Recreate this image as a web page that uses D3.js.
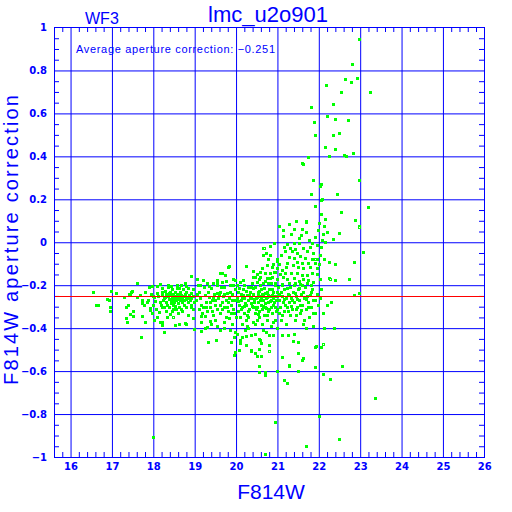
<!DOCTYPE html>
<meta charset="utf-8">
<script src="https://cdnjs.cloudflare.com/ajax/libs/d3/7.8.5/d3.min.js"></script>
<style>
  body { margin: 0; background: #fff; }
  svg { display: block; }
  .tick text { font-family: "DejaVu Sans", sans-serif; font-weight: bold; font-size: 10px; fill: #0000ff; }
  .label { font-family: "Liberation Sans", sans-serif; fill: #0000ff; }
</style>
<body></body>
<script>
// values
var xTicks = [16, 17, 18, 19, 20, 21, 22, 23, 24, 25, 26];
var yTicks = [-1, -0.8, -0.6, -0.4, -0.2, 0, 0.2, 0.4, 0.6, 0.8, 1];
var avgCorrection = -0.251;

var stars = [
  // 16.5 - 18
  [16.55,-0.23],[16.62,-0.29],[16.66,-0.29],[16.88,-0.263],[16.93,-0.27],[16.95,-0.3],[16.97,-0.225],[16.95,-0.32],
  [17.1,-0.235],[17.28,-0.257],[17.33,-0.3],[17.4,-0.29],[17.43,-0.245],[17.42,-0.24],[17.48,-0.225],[17.45,-0.232],
  [17.43,-0.335],[17.5,-0.32],[17.35,-0.355],[17.36,-0.37],[17.52,-0.345],[17.6,-0.19],[17.7,-0.44],[17.6,-0.257],
  [17.67,-0.245],[17.72,-0.27],[17.72,-0.285],[17.8,-0.23],[17.78,-0.29],[17.85,-0.28],[17.87,-0.27],[17.8,-0.37],
  [17.72,-0.345],[17.9,-0.21],[17.97,-0.205],[17.92,-0.315],[17.93,-0.305],[18.0,-0.25],[18.01,-0.257],[18.0,-0.29],
  [18.03,-0.275],[17.95,-0.24],[17.98,-0.33],[18.0,-0.905],
  // 18 - 19
  [18.08,-0.205],[18.1,-0.235],[18.06,-0.31],[18.13,-0.325],[18.15,-0.195],[18.2,-0.215],[18.17,-0.37],[18.2,-0.37],
  [18.25,-0.42],[18.27,-0.418],[18.2,-0.385],[18.2,-0.23],[18.22,-0.245],[18.25,-0.26],[18.23,-0.27],[18.28,-0.225],
  [18.3,-0.24],[18.3,-0.28],[18.32,-0.29],[18.35,-0.25],[18.35,-0.21],[18.37,-0.265],[18.38,-0.3],[18.4,-0.23],
  [18.4,-0.245],[18.42,-0.27],[18.43,-0.285],[18.45,-0.255],[18.45,-0.22],[18.47,-0.31],[18.48,-0.24],[18.5,-0.265],
  [18.5,-0.28],[18.52,-0.23],[18.53,-0.295],[18.55,-0.25],[18.55,-0.27],[18.57,-0.215],[18.58,-0.26],[18.6,-0.24],
  [18.6,-0.285],[18.62,-0.3],[18.63,-0.255],[18.65,-0.27],[18.65,-0.23],[18.67,-0.245],[18.68,-0.31],[18.7,-0.26],
  [18.7,-0.28],[18.72,-0.22],[18.73,-0.25],[18.75,-0.29],[18.77,-0.24],[18.78,-0.265],[18.8,-0.3],[18.8,-0.23],
  [18.82,-0.255],[18.83,-0.28],[18.85,-0.215],[18.87,-0.245],[18.88,-0.27],[18.9,-0.29],[18.9,-0.235],[18.92,-0.26],
  [18.95,-0.31],[18.95,-0.22],[18.97,-0.25],[18.98,-0.28],[18.52,-0.385],[18.63,-0.38],[18.77,-0.378],[18.78,-0.382],
  [18.9,-0.155],[18.77,-0.19],[18.67,-0.198],[18.97,-0.355],[18.99,-0.405],[18.3,-0.32],[18.4,-0.335],[18.6,-0.33],
  [18.35,-0.2],[18.25,-0.3],[18.45,-0.32],[18.7,-0.32],[18.85,-0.34],[18.55,-0.31],[18.15,-0.28],[18.12,-0.25],
  [18.18,-0.29],[18.22,-0.3],[18.58,-0.2],[18.42,-0.205],[18.62,-0.215],[18.8,-0.205],[18.33,-0.35],[18.1,-0.35],
  [18.02,-0.36],[18.28,-0.255],[18.38,-0.235],[18.48,-0.29],[18.58,-0.245],[18.68,-0.265],[18.74,-0.27],[18.84,-0.26],
  [18.92,-0.3],[18.5,-0.25],[18.44,-0.275],[18.62,-0.265],
  // 19 - 20
  [19.05,-0.17],[19.08,-0.2],[19.1,-0.23],[19.12,-0.26],[19.15,-0.29],[19.1,-0.31],[19.05,-0.24],[19.03,-0.27],
  [19.15,-0.415],[19.2,-0.176],[19.22,-0.21],[19.25,-0.245],[19.27,-0.28],[19.3,-0.395],[19.32,-0.465],[19.29,-0.19],
  [19.3,-0.32],[19.33,-0.23],[19.35,-0.255],[19.37,-0.365],[19.38,-0.3],[19.4,-0.215],[19.42,-0.27],[19.45,-0.34],
  [19.47,-0.24],[19.48,-0.29],[19.5,-0.36],[19.52,-0.456],[19.53,-0.176],[19.55,-0.2],[19.55,-0.31],[19.57,-0.26],
  [19.6,-0.23],[19.61,-0.145],[19.62,-0.33],[19.65,-0.28],[19.66,-0.145],[19.68,-0.25],[19.7,-0.4],[19.7,-0.21],
  [19.72,-0.3],[19.75,-0.27],[19.75,-0.35],[19.78,-0.235],[19.8,-0.32],[19.82,-0.355],[19.82,-0.11],[19.83,-0.26],
  [19.85,-0.2],[19.87,-0.29],[19.88,-0.465],[19.9,-0.24],[19.9,-0.38],[19.93,-0.17],[19.93,-0.31],[19.95,-0.44],
  [19.95,-0.525],[19.97,-0.51],[19.97,-0.27],[19.98,-0.22],[19.99,-0.35],[19.15,-0.345],[19.2,-0.3],[19.25,-0.345],
  [19.4,-0.38],[19.6,-0.41],[19.45,-0.19],[19.65,-0.185],[19.35,-0.205],[19.75,-0.18],[19.85,-0.41],[19.5,-0.27],
  [19.58,-0.245],[19.67,-0.31],[19.8,-0.28],[19.92,-0.2],[19.12,-0.2],[19.18,-0.33],[19.28,-0.3],[19.42,-0.32],
  [19.53,-0.39],[19.7,-0.37],[19.88,-0.33],[19.98,-0.42],[19.25,-0.4],[19.15,-0.37],[19.81,-0.113],[19.65,-0.144],
  [19.73,-0.152],[19.53,-0.183],[19.98,-0.175],[19.6,-0.29],[19.63,-0.21],[19.72,-0.24],[19.78,-0.3],[19.86,-0.23],
  [19.9,-0.27],[19.94,-0.33],[19.55,-0.235],[19.45,-0.26],[19.38,-0.28],
  // 20 - 21
  [20.02,-0.2],[20.05,-0.23],[20.03,-0.26],[20.07,-0.29],[20.05,-0.32],[20.03,-0.425],[20.07,-0.5],[20.1,-0.455],
  [20.1,-0.184],[20.1,-0.35],[20.12,-0.27],[20.13,-0.24],[20.15,-0.3],[20.15,-0.38],[20.18,-0.175],[20.18,-0.22],
  [20.2,-0.26],[20.2,-0.33],[20.22,-0.41],[20.23,-0.48],[20.23,-0.11],[20.25,-0.29],[20.26,-0.39],[20.27,-0.245],
  [20.28,-0.21],[20.3,-0.27],[20.3,-0.35],[20.32,-0.31],[20.33,-0.23],[20.35,-0.43],[20.36,-0.5],[20.37,-0.26],
  [20.38,-0.19],[20.4,-0.3],[20.4,-0.37],[20.42,-0.133],[20.42,-0.24],[20.43,-0.28],[20.45,-0.425],[20.45,-0.33],
  [20.47,-0.21],[20.48,-0.26],[20.5,-0.148],[20.5,-0.3],[20.5,-0.53],[20.5,-0.36],[20.52,-0.23],[20.53,-0.28],
  [20.55,-0.45],[20.55,-0.495],[20.55,-0.575],[20.55,-0.605],[20.56,-0.32],[20.57,-0.25],[20.58,-0.137],[20.58,-0.2],
  [20.6,-0.47],[20.6,-0.53],[20.6,-0.29],[20.62,-0.38],[20.63,-0.24],[20.65,-0.059],[20.65,-0.27],[20.66,-0.028],
  [20.67,-0.34],[20.68,-0.215],[20.7,-0.141],[20.7,-0.605],[20.7,-0.62],[20.7,-0.3],[20.7,-0.985],[20.72,-0.26],
  [20.73,-0.42],[20.74,-0.106],[20.75,-0.23],[20.75,-0.36],[20.77,-0.28],[20.78,-0.19],[20.8,-0.48],[20.8,-0.31],
  [20.82,-0.017],[20.82,-0.25],[20.83,-0.165],[20.85,-0.39],[20.85,-0.27],[20.86,-0.113],[20.88,-0.22],[20.88,-0.33],
  [20.9,-0.43],[20.9,-0.29],[20.92,-0.005],[20.92,-0.14],[20.93,-0.25],[20.95,-0.835],[20.95,-0.36],[20.95,-0.2],
  [20.97,-0.27],[20.98,-0.08],[20.98,-0.31],[21.0,-0.6],[21.0,-0.23],[21.0,-0.4],[20.05,-0.275],[20.12,-0.31],
  [20.17,-0.245],[20.22,-0.285],[20.28,-0.32],[20.33,-0.255],[20.38,-0.295],[20.44,-0.265],[20.48,-0.31],[20.53,-0.245],
  [20.58,-0.27],[20.62,-0.31],[20.66,-0.25],[20.71,-0.285],[20.76,-0.255],[20.8,-0.22],[20.84,-0.3],[20.87,-0.245],
  [20.92,-0.28],[20.96,-0.32],[20.2,-0.2],[20.35,-0.21],[20.6,-0.22],[20.9,-0.23],[20.3,-0.4],[20.45,-0.38],
  [20.65,-0.41],[20.9,-0.37],[20.15,-0.44],[20.25,-0.36],[20.55,-0.35],[20.75,-0.34],[20.4,-0.16],[20.55,-0.17],
  [20.7,-0.18],[20.85,-0.19],[20.62,-0.12],[20.78,-0.08],[20.9,-0.1],[20.72,-0.05],[20.46,-0.16],[20.58,-0.163],
  [20.74,-0.168],[20.86,-0.16],[20.5,-0.183],[20.66,-0.188],[20.81,-0.191],[20.94,-0.188],[20.82,-0.144],[20.94,-0.137],
  [20.82,-0.059],[20.98,-0.085],[20.98,-0.121],[20.98,-0.172],[20.45,-0.515],[20.37,-0.505],[20.1,-0.47],[20.25,-0.435],
  [20.8,-0.43],[20.58,-0.455],[20.08,-0.215],[20.14,-0.26],[20.19,-0.295],[20.24,-0.225],[20.31,-0.245],[20.36,-0.285],
  [20.41,-0.215],[20.46,-0.3],[20.51,-0.255],[20.56,-0.225],[20.61,-0.265],[20.64,-0.295],[20.69,-0.235],[20.73,-0.305],
  [20.78,-0.245],[20.83,-0.275],[20.89,-0.26],[20.94,-0.3],[20.99,-0.25],[20.27,-0.34],[20.52,-0.335],[20.77,-0.32],
  // 21 - 22, upper cloud
  [21.04,0.077],[21.28,0.083],[21.45,0.1],[21.68,0.095],[21.13,0.057],[21.13,0.03],[21.32,0.038],[21.58,0.036],
  [21.68,0.049],[21.52,0.02],[21.77,0.01],[21.92,0.025],[21.97,0.057],[21.23,-0.008],[21.39,-0.005],[21.53,-0.005],
  [21.83,-0.002],[21.95,-0.012],[21.31,-0.028],[21.43,-0.033],[21.63,-0.028],[21.79,-0.02],[21.19,-0.043],[21.35,-0.043],
  [21.48,-0.051],[21.71,-0.043],[21.87,-0.051],[21.08,-0.059],[21.27,-0.067],[21.39,-0.075],[21.55,-0.064],[21.67,-0.075],
  [21.83,-0.079],[21.95,-0.079],[21.23,-0.095],[21.47,-0.09],[21.59,-0.095],[21.75,-0.098],[21.91,-0.098],[21.1,-0.129],
  [21.21,-0.113],[21.37,-0.106],[21.49,-0.113],[21.63,-0.121],[21.79,-0.113],[21.95,-0.121],[21.06,-0.148],[21.19,-0.141],
  [21.32,-0.144],[21.47,-0.144],[21.59,-0.152],[21.71,-0.152],[21.83,-0.144],[21.95,-0.148],[21.13,-0.163],[21.24,-0.172],
  [21.39,-0.168],[21.51,-0.179],[21.63,-0.172],[21.75,-0.175],[21.87,-0.183],[21.1,-0.194],[21.27,-0.191],[21.43,-0.188],
  [21.55,-0.194],[21.71,-0.191],[21.15,-0.02],[21.05,-0.1],[21.6,0.06],[21.4,0.06],
  // 21 - 22, lower part
  [21.02,-0.21],[21.05,-0.24],[21.03,-0.27],[21.07,-0.3],[21.05,-0.33],[21.08,-0.36],[21.1,-0.43],[21.1,-0.535],
  [21.12,-0.25],[21.13,-0.28],[21.15,-0.64],[21.15,-0.32],[21.17,-0.22],[21.2,-0.26],[21.2,-0.38],[21.23,-0.655],
  [21.22,-0.3],[21.25,-0.43],[21.25,-0.24],[21.27,-0.57],[21.27,-0.28],[21.3,-0.34],[21.3,-0.21],[21.32,-0.26],
  [21.35,-0.31],[21.37,-0.46],[21.37,-0.23],[21.4,-0.425],[21.4,-0.28],[21.42,-0.36],[21.45,-0.25],[21.47,-0.3],
  [21.5,-0.465],[21.5,-0.515],[21.5,-0.6],[21.5,-0.22],[21.52,-0.27],[21.55,-0.33],[21.57,-0.24],[21.6,-0.55],
  [21.62,-0.54],[21.6,-0.29],[21.62,-0.38],[21.65,-0.26],[21.67,-0.21],[21.68,-0.31],[21.7,-0.95],[21.7,-0.4],
  [21.72,-0.25],[21.75,-0.28],[21.77,-0.35],[21.8,-0.23],[21.82,-0.3],[21.85,-0.27],[21.87,-0.33],[21.9,-0.33],
  [21.9,-0.49],[21.9,-0.58],[21.92,-0.58],[21.93,-0.485],[21.95,-0.24],[21.97,-0.29],[22.0,-0.81],[21.15,-0.265],
  [21.35,-0.27],[21.55,-0.29],[21.75,-0.3],[21.25,-0.32],[21.45,-0.34],[21.65,-0.36],[21.85,-0.39],[21.1,-0.2],
  [21.4,-0.2],[21.6,-0.2],[21.8,-0.2],[21.37,-0.46],[21.27,-0.575],[21.08,-0.23],[21.18,-0.29],[21.23,-0.215],
  [21.28,-0.245],[21.33,-0.295],[21.42,-0.235],[21.48,-0.265],[21.53,-0.215],[21.58,-0.315],[21.63,-0.23],[21.7,-0.265],
  [21.78,-0.245],[21.84,-0.22],[21.92,-0.27],[21.44,-0.31],[21.12,-0.34],
  // the column near 22 and the faint tail
  [22.02,-0.26],[22.05,-0.22],[22.02,-0.17],[22.0,-0.1],[22.03,-0.06],[22.05,-0.02],[22.08,0.01],[22.1,0.04],
  [22.12,0.075],[22.15,0.11],[22.05,0.13],[22.05,0.195],[22.07,0.2],[21.9,0.17],[22.02,0.26],[22.05,0.27],
  [21.87,0.29],[21.82,0.225],[22.1,-0.33],[22.12,-0.4],[22.05,-0.49],[22.1,-0.615],[22.27,-0.635],[22.25,-0.09],
  [22.4,-0.1],[22.35,0.015],[22.5,0.045],[22.73,-0.17],[22.25,-0.165],[22.4,-0.175],[22.85,-0.245],[22.98,-0.235],
  [22.3,-0.28],[22.2,-0.29],[22.37,-0.4],[22.55,-0.575],[23.08,-0.045],[22.85,-0.09],[23.35,-0.725],[22.5,-0.915],
  [22.12,-0.08],[22.15,0.0],[22.2,0.05],[22.0,0.09],[21.45,0.1],[21.7,0.1],[22.88,0.105],[22.98,0.075],
  [22.53,0.14],[21.9,0.17],[23.2,0.165],[22.05,0.13],[22.45,0.225],[22.98,0.29],[22.05,0.27],[21.75,0.395],
  [21.6,0.37],[21.62,0.365],[22.15,0.445],[22.4,0.435],[22.6,0.405],[22.65,0.4],[22.82,0.415],[22.25,0.4],
  [21.9,0.5],[22.35,0.5],[22.5,0.51],[22.2,0.59],[22.4,0.575],[22.7,0.57],[21.88,0.56],[21.8,0.63],
  [22.35,0.645],[22.17,0.73],[22.53,0.7],[23.23,0.7],[22.64,0.76],[22.77,0.745],[22.93,0.765],[22.8,0.83],
  [22.98,0.945]
];

var openStars = [[18.48,-0.35],[20.67,-0.028],[21.92,-0.08],[22.28,-0.17],[22.98,0.07],[22.1,-0.475],[20.8,-0.505]];

var W = 512, H = 512;
var x = d3.scaleLinear().domain([15.6, 26]).range([54, 484.3]);
var y = d3.scaleLinear().domain([-1, 1]).range([457, 27.5]);

var plotLeft = 54, plotRight = 484, plotTop = 27, plotBottom = 457;
var blue = "#0000ff";

var svg = d3.select("body").append("svg")
    .attr("width", W)
    .attr("height", H);

svg.append("rect").attr("width", W).attr("height", H).attr("fill", "#fff");

function styleLines(g) { g.select(".domain").remove(); g.selectAll("line").attr("stroke", blue); }

// grid
svg.append("g")
    .attr("transform", "translate(0," + plotBottom + ")")
    .call(d3.axisBottom(x).tickValues(xTicks.slice(0, -1)).tickSize(-(plotBottom - plotTop)).tickFormat(""))
    .call(styleLines);

svg.append("g")
    .attr("transform", "translate(" + plotLeft + ",0)")
    .call(d3.axisLeft(y).tickValues(yTicks.slice(1, -1)).tickSize(-(plotRight - plotLeft)).tickFormat(""))
    .call(styleLines);

// minor ticks
var xMinor = d3.range(15.8, 26, 0.2).filter(function(v) { return Math.abs(v - Math.round(v)) > 0.01; });
var yMinor = d3.range(-0.95, 1, 0.05).filter(function(v) { return Math.abs(v * 5 - Math.round(v * 5)) > 0.01; });

svg.append("g").attr("transform", "translate(0," + plotBottom + ")")
    .call(d3.axisBottom(x).tickValues(xMinor).tickSize(-5).tickFormat("")).call(styleLines);
svg.append("g").attr("transform", "translate(0," + plotTop + ")")
    .call(d3.axisTop(x).tickValues(xMinor).tickSize(-5).tickFormat("")).call(styleLines);
svg.append("g").attr("transform", "translate(" + plotLeft + ",0)")
    .call(d3.axisLeft(y).tickValues(yMinor).tickSize(-5).tickFormat("")).call(styleLines);
svg.append("g").attr("transform", "translate(" + plotRight + ",0)")
    .call(d3.axisRight(y).tickValues(yMinor).tickSize(-5).tickFormat("")).call(styleLines);

// points
svg.append("g").selectAll("rect")
    .data(stars)
  .enter().append("rect")
    .attr("x", function(d) { return Math.round(x(d[0])) - 1; })
    .attr("y", function(d) { return Math.round(y(d[1])) - 1; })
    .attr("width", 3)
    .attr("height", 3)
    .attr("fill", "#00ff00");

var open = svg.append("g").selectAll("g")
    .data(openStars)
  .enter().append("g");
open.append("rect")
    .attr("x", function(d) { return Math.round(x(d[0])) - 1; })
    .attr("y", function(d) { return Math.round(y(d[1])) - 1; })
    .attr("width", 3).attr("height", 3).attr("fill", "#00ff00");
open.append("rect")
    .attr("x", function(d) { return Math.round(x(d[0])); })
    .attr("y", function(d) { return Math.round(y(d[1])); })
    .attr("width", 1).attr("height", 1).attr("fill", "#fff");

// average line
svg.append("line")
    .attr("x1", plotLeft).attr("x2", plotRight)
    .attr("y1", Math.floor(y(avgCorrection)) + 0.5)
    .attr("y2", Math.floor(y(avgCorrection)) + 0.5)
    .attr("stroke", "#ff0000");

// frame
svg.append("rect")
    .attr("x", plotLeft + 0.5).attr("y", plotTop + 0.5)
    .attr("width", plotRight - plotLeft).attr("height", plotBottom - plotTop)
    .attr("fill", "none").attr("stroke", blue);

// tick labels
svg.append("g")
    .attr("transform", "translate(0," + plotBottom + ")")
    .call(d3.axisBottom(x).tickValues(xTicks).tickSize(0).tickPadding(6).tickFormat(d3.format("d")))
    .call(function(g) { g.select(".domain").remove(); });

svg.append("g")
    .attr("transform", "translate(" + plotLeft + ",0)")
    .call(d3.axisLeft(y).tickValues(yTicks).tickSize(0).tickPadding(7).tickFormat(d3.format("")))
    .call(function(g) { g.select(".domain").remove(); });

// texts
svg.append("text").attr("class", "label")
    .attr("x", 85).attr("y", 24).attr("font-size", 16)
    .text("WF3");

svg.append("text").attr("class", "label")
    .attr("x", 268).attr("y", 22).attr("font-size", 22)
    .attr("text-anchor", "middle")
    .text("lmc_u2o901");

svg.append("text").attr("class", "label")
    .attr("x", 76).attr("y", 52.5).attr("font-size", 11)
    .attr("textLength", 199).attr("lengthAdjust", "spacing")
    .text("Average aperture correction: \u22120.251");

svg.append("text").attr("class", "label")
    .attr("x", 271).attr("y", 498.5).attr("font-size", 21)
    .attr("text-anchor", "middle")
    .text("F814W");

svg.append("text").attr("class", "label")
    .attr("transform", "translate(18,240) rotate(-90)")
    .attr("font-size", 20)
    .attr("text-anchor", "middle")
    .attr("textLength", 290).attr("lengthAdjust", "spacing")
    .text("F814W aperture correction");
</script>
